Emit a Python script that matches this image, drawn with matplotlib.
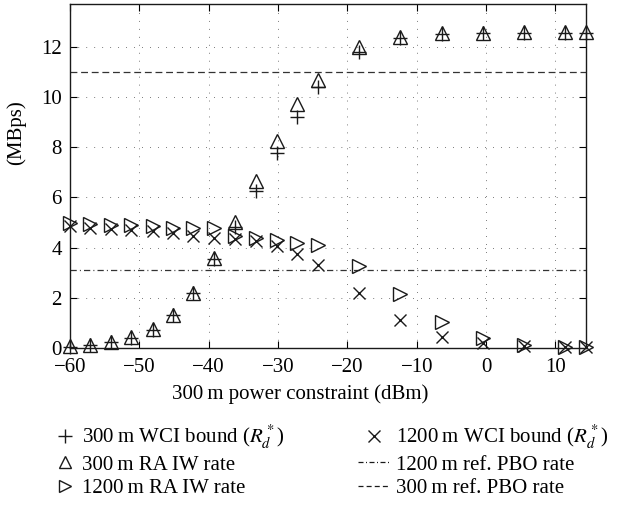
import matplotlib
matplotlib.use('Agg')
import matplotlib.pyplot as plt
from matplotlib.lines import Line2D

# ---- data ----
power = [-60, -57.1, -54.1, -51.2, -48.1, -45.1, -42.2, -39.2, -36.2, -33.2,
         -30.2, -27.3, -24.3, -18.3, -12.4, -6.4, -0.4, 5.5, 11.4, 14.4]
wci_300 = [0.05, 0.12, 0.22, 0.40, 0.70, 1.30, 2.20, 3.55, 4.80, 6.25,
           7.78, 9.18, 10.38, 11.80, 12.33, 12.50, 12.54, 12.55, 12.55, 12.55]
ra_300 = [0.06, 0.13, 0.25, 0.42, 0.74, 1.32, 2.21, 3.58, 5.00, 6.65,
          8.25, 9.71, 10.67, 12.00, 12.40, 12.53, 12.56, 12.57, 12.57, 12.57]
ra_1200 = [4.97, 4.92, 4.90, 4.88, 4.85, 4.79, 4.76, 4.76, 4.45, 4.37,
           4.30, 4.20, 4.10, 3.25, 2.15, 1.02, 0.40, 0.13, 0.05, 0.05]
wci_1200 = [4.87, 4.78, 4.72, 4.70, 4.66, 4.58, 4.45, 4.40, 4.35, 4.25,
            4.05, 3.75, 3.30, 2.20, 1.12, 0.42, 0.20, 0.08, 0.04, 0.04]
pbo_1200 = 3.1
pbo_300 = 11.0

xticks = [-60, -50, -40, -30, -20, -10, 0, 10]
yticks = [0, 2, 4, 6, 8, 10, 12]

plt.rcParams['font.family'] = ['Liberation Serif', 'DejaVu Serif']
plt.rcParams['mathtext.fontset'] = 'stix'
plt.rcParams['font.size'] = 15

W, H = 624, 514
fig = plt.figure(figsize=(W / 100, H / 100), dpi=100)
ax = fig.add_axes([70 / W, 1 - 348 / H, 516 / W, 344 / H])

col = '#1a1a1a'
mk = dict(linestyle='none', color=col, mfc='none', clip_on=False, zorder=5)
ax.plot(power, wci_300, marker='+', ms=10, mew=1.0, **mk)
ax.plot(power, ra_300, marker='^', ms=10, mew=1.0, **mk)
ax.plot(power, ra_1200, marker='>', ms=10, mew=1.0, **mk)
ax.plot(power, wci_1200, marker='x', ms=8, mew=1.0, **mk)
ax.axhline(pbo_1200, color='#333333', lw=0.9, dashes=(5, 2.5, 0.8, 2.5))
ax.axhline(pbo_300, color='#333333', lw=0.9, dashes=(5.5, 3))

ax.set_xlim(power[0], power[-1])
ax.set_ylim(0, 13.7)
ax.set_xticks(xticks)
ax.set_yticks(yticks)
ax.tick_params(direction='in', top=True, right=True, length=5, width=0.8,
               labelsize=15)
ax.tick_params(axis='x', pad=7)
ax.tick_params(axis='y', pad=6)
ax.grid(True, color='#444444', lw=0.7, linestyle=(0, (0.7, 7.5)))
for s in ax.spines.values():
    s.set_linewidth(1.0)
    s.set_color(col)

ax.set_xlabel('300\u2009m power constraint (dBm)', fontsize=15)
ax.xaxis.set_label_coords(0.446, -0.105)
ax.set_ylabel('(MBps)', fontsize=15)
ax.yaxis.set_label_coords(-0.085, 0.625)

h_left = [
    Line2D([], [], linestyle='none', marker='+', ms=10, mew=1.0, color=col),
    Line2D([], [], linestyle='none', marker='^', ms=9, mew=1.0, color=col, mfc='none'),
    Line2D([], [], linestyle='none', marker='>', ms=9, mew=1.0, color=col, mfc='none'),
]
l_left = ['300\u2009m WCI bound ($R_d^*$)', '300\u2009m RA IW rate', '1200\u2009m RA IW rate']
h_right = [
    Line2D([], [], linestyle='none', marker='x', ms=8, mew=1.0, color=col),
    Line2D([], [], color=col, lw=0.9, dashes=(4, 2, 0.8, 2)),
    Line2D([], [], color=col, lw=0.9, dashes=(4, 2.5)),
]
l_right = ['1200\u2009m WCI bound ($R_d^*$)', '1200\u2009m ref. PBO rate', '300\u2009m ref. PBO rate']

fig.legend(h_left, l_left, loc='upper left', bbox_to_anchor=(55 / W, 1 - 424 / H),
           frameon=False, handlelength=1.0, handletextpad=0.3,
           labelspacing=0.18, fontsize=15, borderaxespad=0, borderpad=0)
fig.legend(h_right, l_right, loc='upper left', bbox_to_anchor=(358 / W, 1 - 424 / H),
           frameon=False, handlelength=1.5, handletextpad=0.3,
           labelspacing=0.18, fontsize=15, borderaxespad=0, borderpad=0)

fig.savefig('out.png', dpi=100)
